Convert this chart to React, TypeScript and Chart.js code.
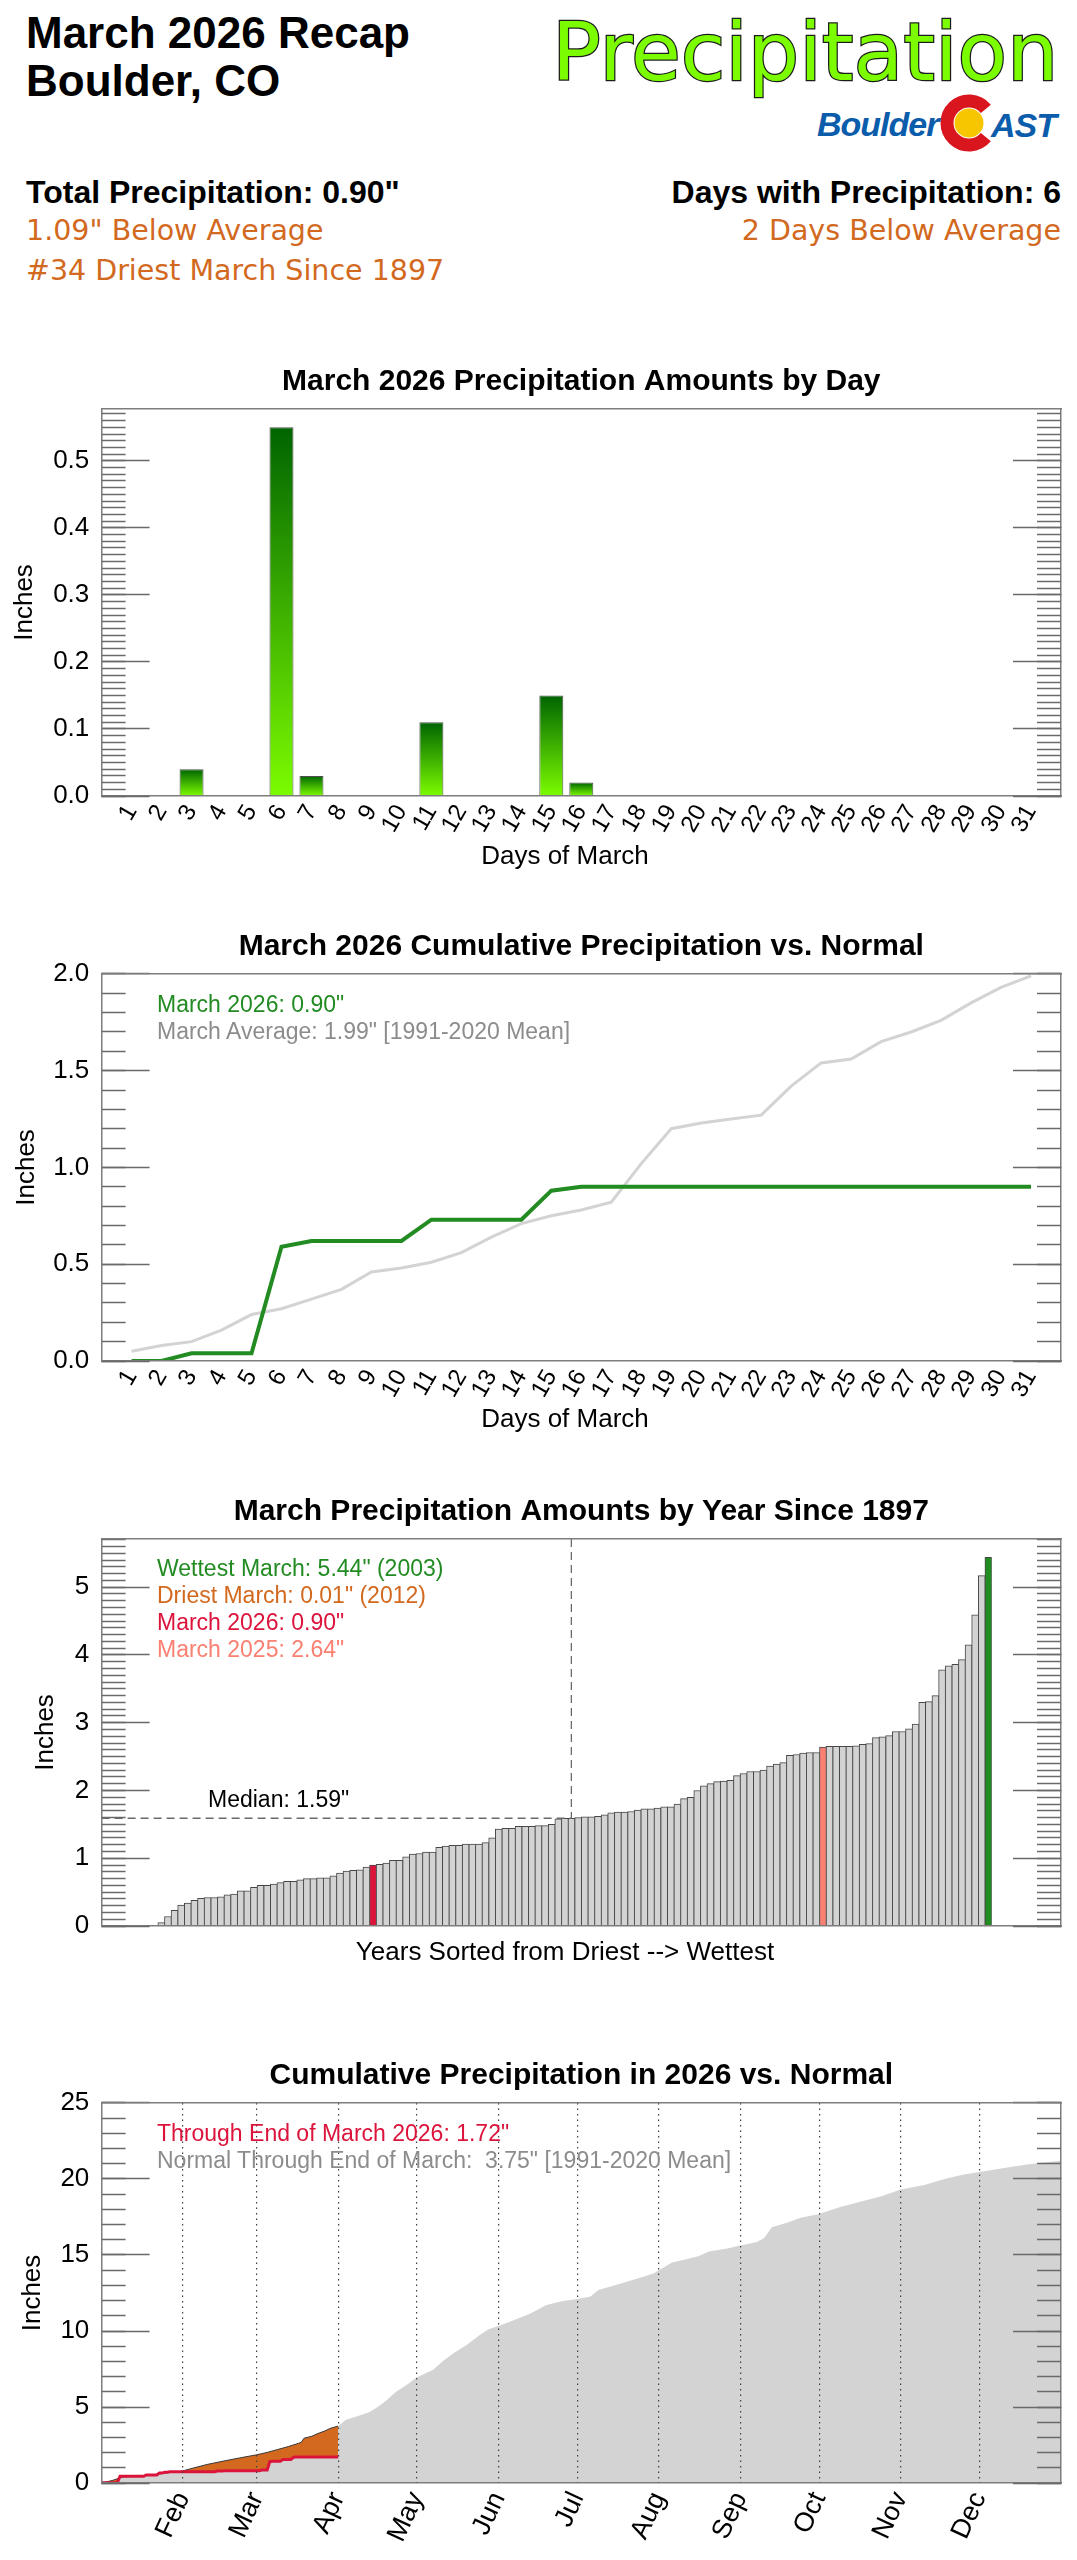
import React, { useEffect, useRef } from 'react';
import { Chart, registerables } from 'chart.js';

Chart.register(...registerables);

const W = 1077;
const SANS = '"Liberation Sans", Arial, Helvetica, sans-serif';
const DEJAVU = '"DejaVu Sans", Verdana, sans-serif';
Chart.defaults.font.family = SANS;
Chart.defaults.color = '#000';

// ---------------- data ----------------
const MARCH_DAYS = [1, 2, 3, 4, 5, 6, 7, 8, 9, 10, 11, 12, 13, 14, 15, 16, 17, 18, 19, 20, 21, 22, 23, 24, 25, 26, 27, 28, 29, 30, 31];
const DAILY_PRECIP_2026 = [0, 0, 0.04, 0, 0, 0.55, 0.03, 0, 0, 0, 0.11, 0, 0, 0, 0.15, 0.02, 0, 0, 0, 0, 0, 0, 0, 0, 0, 0, 0, 0, 0, 0, 0];
const CUM_2026_MARCH = [0, 0, 0.04, 0.04, 0.04, 0.59, 0.62, 0.62, 0.62, 0.62, 0.73, 0.73, 0.73, 0.73, 0.88, 0.9, 0.9, 0.9, 0.9, 0.9, 0.9, 0.9, 0.9, 0.9, 0.9, 0.9, 0.9, 0.9, 0.9, 0.9, 0.9];
const CUM_NORMAL_MARCH = [0.05, 0.08, 0.1, 0.16, 0.24, 0.27, 0.32, 0.37, 0.46, 0.48, 0.51, 0.56, 0.64, 0.71, 0.75, 0.78, 0.82, 1.02, 1.2, 1.23, 1.25, 1.27, 1.42, 1.54, 1.56, 1.65, 1.7, 1.76, 1.85, 1.93, 1.99];

// March totals since 1897, sorted driest -> wettest
const MARCH_TOTALS_SORTED = [
  0.01, 0.05, 0.14, 0.23, 0.31, 0.34, 0.38, 0.41, 0.42, 0.42,
  0.43, 0.46, 0.47, 0.52, 0.52, 0.57, 0.6, 0.6, 0.62, 0.64,
  0.66, 0.66, 0.68, 0.7, 0.7, 0.71, 0.71, 0.74, 0.78, 0.81,
  0.82, 0.83, 0.87, 0.9, 0.91, 0.93, 0.97, 0.97, 1.02, 1.06,
  1.07, 1.09, 1.09, 1.16, 1.18, 1.19, 1.19, 1.21, 1.21, 1.21,
  1.23, 1.3, 1.43, 1.44, 1.44, 1.47, 1.47, 1.47, 1.48, 1.48,
  1.5, 1.58, 1.59, 1.59, 1.6, 1.61, 1.61, 1.62, 1.64, 1.67,
  1.68, 1.68, 1.69, 1.71, 1.73, 1.73, 1.74, 1.76, 1.76, 1.8,
  1.88, 1.9, 2.0, 2.07, 2.1, 2.13, 2.14, 2.15, 2.22, 2.25,
  2.28, 2.28, 2.3, 2.36, 2.39, 2.41, 2.52, 2.53, 2.55, 2.56,
  2.56, 2.64, 2.65, 2.65, 2.65, 2.65, 2.66, 2.68, 2.69, 2.78,
  2.79, 2.81, 2.87, 2.87, 2.91, 2.98, 3.3, 3.31, 3.4, 3.78,
  3.84, 3.86, 3.93, 4.15, 4.59, 5.17, 5.44,
];
const RANK_2026 = 34;
const RANK_2025 = 102;
const MEDIAN_RANK = 64;
const MEDIAN_VALUE = 1.59;

// Year-to-date (day of year, Jan 1 = 0)
const YTD_DAYS_2026 = [0, 6, 7, 16, 17, 21, 22, 23, 24, 25, 26, 43, 44, 46, 47, 60, 61, 63, 64, 65, 68, 69, 72, 73, 74, 90];
const YTD_PRECIP_2026 = [0.03, 0.03, 0.45, 0.45, 0.54, 0.54, 0.66, 0.66, 0.72, 0.72, 0.74, 0.74, 0.79, 0.79, 0.82, 0.82, 0.86, 0.86, 1.41, 1.44, 1.44, 1.55, 1.55, 1.7, 1.72, 1.72];
const NORMAL_DAYS = [0, 4, 8, 15, 21, 25, 30, 34, 40, 47, 53, 59, 63, 67, 71, 75, 76, 77, 80, 82, 85, 87, 90, 93, 97, 102, 105, 108, 112, 116, 120, 126, 130, 134, 139, 144, 147, 151, 156, 163, 169, 175, 181, 186, 189, 195, 203, 210, 212, 217, 222, 227, 231, 238, 243, 249, 252, 255, 261, 266, 273, 281, 289, 297, 304, 313, 321, 328, 334, 344, 352, 365];
const NORMAL_YTD = [0, 0.17, 0.4, 0.47, 0.58, 0.68, 0.76, 0.95, 1.22, 1.47, 1.67, 1.86, 2.02, 2.21, 2.4, 2.62, 2.69, 2.95, 3.08, 3.24, 3.43, 3.6, 3.75, 4.17, 4.38, 4.68, 5.0, 5.38, 6.0, 6.45, 6.96, 7.44, 8.05, 8.55, 9.1, 9.75, 10.1, 10.33, 10.66, 11.14, 11.69, 11.96, 12.1, 12.27, 12.69, 13.0, 13.4, 13.78, 13.99, 14.5, 14.7, 14.92, 15.23, 15.43, 15.62, 15.83, 16.1, 16.82, 17.13, 17.44, 17.69, 18.16, 18.51, 18.88, 19.3, 19.6, 20.02, 20.29, 20.45, 20.74, 20.95, 21.2];
const END_OF_MARCH_DAY = 90;
const MONTH_LABELS = ['Feb', 'Mar', 'Apr', 'May', 'Jun', 'Jul', 'Aug', 'Sep', 'Oct', 'Nov', 'Dec'];
const MONTH_START_DAYS = [31, 59, 90, 120, 151, 181, 212, 243, 273, 304, 334];

// ---------------- styling ----------------
const FRAME_L = 101.6;
const FRAME_R = 1061;
const PAD_R = W - FRAME_R;
const FRAME_TOP = 60;
const FRAME_COLOR = '#7d7d7d';
const TICK_COLOR = '#6a6a6a';
const MAJOR_LEN = 48;
const MINOR_LEN = 24;
const GREEN = '#228B22';
const ORANGE = '#D2691E';
const CRIMSON = '#DC143C';
const SALMON = '#FA8072';
const LGRAY = '#D3D3D3';
const TXTGRAY = '#8C8C8C';

function steps(step: number, max: number): number[] {
  const out: number[] = [];
  const n = Math.floor(max / step + 1e-6);
  for (let i = 0; i <= n; i++) out.push(Math.round(i * step * 1e6) / 1e6);
  return out;
}

function setTicks(vals: number[]) {
  return (s: any) => {
    s.ticks = vals.map((v) => ({ value: v }));
  };
}

function frameScales(ymax: number, majorStep: number, minorStep: number, decimals: number, titlePad: number) {
  const major = steps(majorStep, ymax);
  const minor = steps(minorStep, ymax);
  const base = { type: 'linear', min: 0, max: ymax };
  const tickGrid = (len: number) => ({
    display: true,
    drawOnChartArea: false,
    drawTicks: true,
    tickLength: -len,
    tickColor: TICK_COLOR,
    tickWidth: 1.5,
    z: 1,
  });
  return {
    y: {
      ...base,
      position: 'left',
      weight: 2,
      afterBuildTicks: setTicks(major),
      afterFit: (s: any) => {
        s.width = FRAME_L;
      },
      ticks: {
        autoSkip: false,
        padding: MAJOR_LEN + 12.3,
        font: { size: 26 },
        color: '#000',
        callback: (v: any) => Number(v).toFixed(decimals),
      },
      grid: tickGrid(MAJOR_LEN),
      border: { display: true, color: FRAME_COLOR, width: 1.5, z: 1 },
      title: { display: true, text: 'Inches', font: { size: 26 }, color: '#000', padding: { top: titlePad, bottom: 0 } },
    },
    ym: {
      ...base,
      position: 'left',
      weight: 1,
      afterBuildTicks: setTicks(minor),
      afterFit: (s: any) => {
        s.width = 0;
      },
      ticks: { display: false },
      grid: tickGrid(MINOR_LEN),
      border: { display: false },
    },
    yr: {
      ...base,
      position: 'right',
      weight: 2,
      afterBuildTicks: setTicks(major),
      afterFit: (s: any) => {
        s.width = 0;
      },
      ticks: { display: false },
      grid: tickGrid(MAJOR_LEN),
      border: { display: true, color: FRAME_COLOR, width: 1.5, z: 1 },
    },
    yrm: {
      ...base,
      position: 'right',
      weight: 1,
      afterBuildTicks: setTicks(minor),
      afterFit: (s: any) => {
        s.width = 0;
      },
      ticks: { display: false },
      grid: tickGrid(MINOR_LEN),
      border: { display: false },
    },
    xt: {
      type: 'linear',
      position: 'top',
      min: 0,
      max: 1,
      afterFit: (s: any) => {
        s.height = 0;
      },
      ticks: { display: false },
      grid: { display: false, drawTicks: false },
      border: { display: true, color: FRAME_COLOR, width: 1.5, z: 1 },
    },
  };
}

function titleCfg(text: string) {
  return {
    display: true,
    text,
    fullSize: false,
    font: { size: 30, weight: 'bold', family: SANS },
    color: '#000',
    padding: { top: 15.1, bottom: 8.9 },
  };
}

function bottomAxis(min: number, max: number, tickVals: number[] | null, labels: ((v: number) => string) | null, height: number, rot: number, size: number) {
  return {
    type: 'linear',
    position: 'bottom',
    weight: 2,
    min,
    max,
    offset: false,
    afterBuildTicks: tickVals ? setTicks(tickVals) : undefined,
    afterFit: (s: any) => {
      s.height = height;
    },
    ticks: {
      display: !!labels,
      autoSkip: false,
      minRotation: rot,
      maxRotation: rot,
      padding: 4,
      font: { size: size },
      color: '#000',
      callback: (v: any) => (labels ? labels(Number(v)) : ''),
    },
    grid: { display: false, drawTicks: false, offset: false },
    border: { display: true, color: FRAME_COLOR, width: 1.5, z: 1 },
  };
}

const baseOptions = {
  responsive: false,
  animation: false,
  events: [],
  layout: { padding: { left: 0, right: PAD_R, top: 0, bottom: 0 } },
};

function dailyConfig() {
  const ymax = Math.max(...DAILY_PRECIP_2026) * 1.05;
  const gradient = (c: any) => {
    const chart = c.chart;
    if (!chart.chartArea || c.type !== 'data') return '#3c9d10';
    const ys = chart.scales.y;
    const v = c.parsed ? c.parsed.y : 0;
    const top = ys.getPixelForValue(v);
    const bottom = ys.getPixelForValue(0);
    if (bottom - top < 1) return '#7CFC00';
    const g = chart.ctx.createLinearGradient(0, top, 0, bottom);
    g.addColorStop(0, '#006400');
    g.addColorStop(1, '#7CFC00');
    return g;
  };
  return {
    type: 'bar',
    data: {
      datasets: [
        {
          data: MARCH_DAYS.map((d, i) => ({ x: d, y: DAILY_PRECIP_2026[i] })),
          backgroundColor: gradient,
          borderColor: '#505050',
          borderWidth: 1,
          barPercentage: 0.8,
          categoryPercentage: 1,
          xAxisID: 'x',
          yAxisID: 'y',
        },
      ],
    },
    options: {
      ...baseOptions,
      plugins: { legend: { display: false }, tooltip: { enabled: false }, title: titleCfg('March 2026 Precipitation Amounts by Day') },
      scales: {
        x: bottomAxis(0, 32, MARCH_DAYS, (v) => String(v), 80, 60, 24),
        ...frameScales(ymax, 0.1, 0.01, 1, 9.1),
      },
    },
  };
}

function cumulativeMarchConfig() {
  return {
    type: 'line',
    data: {
      datasets: [
        {
          data: MARCH_DAYS.map((d, i) => ({ x: d, y: CUM_2026_MARCH[i] })),
          borderColor: GREEN,
          borderWidth: 4,
          pointRadius: 0,
          fill: false,
          xAxisID: 'x',
          yAxisID: 'y',
        },
        {
          data: MARCH_DAYS.map((d, i) => ({ x: d, y: CUM_NORMAL_MARCH[i] })),
          borderColor: LGRAY,
          borderWidth: 3,
          pointRadius: 0,
          fill: false,
          xAxisID: 'x',
          yAxisID: 'y',
        },
      ],
    },
    options: {
      ...baseOptions,
      plugins: { legend: { display: false }, tooltip: { enabled: false }, title: titleCfg('March 2026 Cumulative Precipitation vs. Normal') },
      scales: {
        x: bottomAxis(0, 32, MARCH_DAYS, (v) => String(v), 80, 60, 24),
        ...frameScales(2.0, 0.5, 0.1, 1, 10.8),
      },
    },
  };
}

function yearsConfig() {
  const ymax = Math.max(...MARCH_TOTALS_SORTED) * 1.05;
  const n = MARCH_TOTALS_SORTED.length;
  const xmin = -7;
  const xmax = 138;
  const colors = MARCH_TOTALS_SORTED.map((_, i) => {
    const rank = i + 1;
    if (rank === RANK_2026) return CRIMSON;
    if (rank === RANK_2025) return SALMON;
    if (rank === n) return GREEN;
    if (rank === 1) return ORANGE;
    return LGRAY;
  });
  return {
    type: 'bar',
    data: {
      datasets: [
        {
          type: 'line',
          data: [
            { x: xmin, y: MEDIAN_VALUE },
            { x: MEDIAN_RANK, y: MEDIAN_VALUE },
            { x: MEDIAN_RANK, y: ymax },
          ],
          borderColor: '#6a6a6a',
          borderWidth: 1.3,
          borderDash: [8, 5],
          pointRadius: 0,
          fill: false,
          xAxisID: 'x',
          yAxisID: 'y',
        },
        {
          type: 'bar',
          data: MARCH_TOTALS_SORTED.map((v, i) => ({ x: i + 1, y: v })),
          backgroundColor: colors,
          borderColor: '#474747',
          borderWidth: { left: 1, right: 0.6, top: 1, bottom: 0 },
          barPercentage: 1,
          categoryPercentage: 1,
          xAxisID: 'x',
          yAxisID: 'y',
        },
      ],
    },
    options: {
      ...baseOptions,
      plugins: { legend: { display: false }, tooltip: { enabled: false }, title: titleCfg('March Precipitation Amounts by Year Since 1897') },
      scales: {
        x: bottomAxis(xmin, xmax, null, null, 80, 0, 24),
        ...frameScales(ymax, 1, 0.1, 0, 30.4),
      },
    },
  };
}

function ytdConfig() {
  const normalJanMarDays = NORMAL_DAYS.filter((d) => d <= END_OF_MARCH_DAY);
  return {
    type: 'line',
    data: {
      datasets: [
        {
          data: YTD_DAYS_2026.map((d, i) => ({ x: d, y: YTD_PRECIP_2026[i] })),
          borderColor: CRIMSON,
          borderWidth: 3,
          pointRadius: 0,
          fill: false,
          order: 0,
          xAxisID: 'x',
          yAxisID: 'y',
        },
        {
          data: normalJanMarDays.map((d, i) => ({ x: d, y: NORMAL_YTD[i] })),
          borderColor: '#3a3a3a',
          borderWidth: 1,
          pointRadius: 0,
          fill: { target: 0, above: ORANGE, below: GREEN },
          order: 1,
          xAxisID: 'x',
          yAxisID: 'y',
        },
        {
          data: NORMAL_DAYS.map((d, i) => ({ x: d, y: NORMAL_YTD[i] })),
          borderWidth: 0,
          borderColor: 'rgba(0,0,0,0)',
          backgroundColor: LGRAY,
          pointRadius: 0,
          fill: 'origin',
          order: 2,
          xAxisID: 'x',
          yAxisID: 'y',
        },
      ],
    },
    options: {
      ...baseOptions,
      plugins: { legend: { display: false }, tooltip: { enabled: false }, title: titleCfg('Cumulative Precipitation in 2026 vs. Normal') },
      scales: {
        x: bottomAxis(0, 365, MONTH_START_DAYS, (v) => MONTH_LABELS[MONTH_START_DAYS.indexOf(v)] || '', 69, 65, 27),
        xg: {
          type: 'linear',
          position: 'bottom',
          weight: 1,
          min: 0,
          max: 365,
          afterBuildTicks: setTicks(MONTH_START_DAYS),
          afterFit: (s: any) => {
            s.height = 0;
          },
          ticks: { display: false },
          grid: { display: true, drawOnChartArea: true, drawTicks: false, color: '#404040', lineWidth: 1.2, z: 1 },
          border: { display: false, dash: [1.5, 4] },
        },
        ...frameScales(25, 5, 1, 0, 17),
      },
    },
  };
}

function ChartCanvas({ top, height, make }: { top: number; height: number; make: () => any }) {
  const ref = useRef<HTMLCanvasElement | null>(null);
  useEffect(() => {
    if (!ref.current) return;
    const chart = new Chart(ref.current, make());
    return () => chart.destroy();
  }, []);
  return (
    <div style={{ position: 'absolute', left: 0, top, width: W, height }}>
      <canvas ref={ref} width={W} height={height} style={{ width: W, height, display: 'block' }} />
    </div>
  );
}

type TxtProps = {
  x: number;
  y: number;
  size: number;
  children: React.ReactNode;
  color?: string;
  weight?: number;
  family?: string;
  align?: 'left' | 'right' | 'center';
  style?: React.CSSProperties;
};

function Txt({ x, y, size, children, color = '#000', weight = 400, family = SANS, align = 'left', style = {} }: TxtProps) {
  const s: React.CSSProperties = {
    position: 'absolute',
    top: y - 0.846 * size,
    fontSize: size,
    lineHeight: `${size}px`,
    fontFamily: family,
    fontWeight: weight,
    color,
    whiteSpace: 'pre',
    ...style,
  };
  if (align === 'left') s.left = x;
  else if (align === 'right') s.right = W - x;
  else {
    s.left = x;
    s.transform = 'translateX(-50%)';
  }
  return <div style={s}>{children}</div>;
}

function Logo() {
  const cx = 40;
  const cy = 33;
  const r = 22;
  const a = (40 * Math.PI) / 180;
  const x1 = cx + r * Math.cos(a);
  const y1 = cy - r * Math.sin(a);
  const y2 = cy + r * Math.sin(a);
  return (
    <>
      <Txt x={817} y={136} size={34} weight={700} color="#0B5CAB" style={{ fontStyle: 'italic', letterSpacing: '-1px' }}>
        Boulder
      </Txt>
      <svg style={{ position: 'absolute', left: 929, top: 90 }} width={80} height={66}>
        <path d={`M ${x1} ${y1} A ${r} ${r} 0 1 0 ${x1} ${y2}`} stroke="#D9151D" strokeWidth={13} fill="none" />
        <circle cx={cx} cy={cy} r={14.5} fill="#F7C600" />
      </svg>
      <Txt x={991} y={137} size={34} weight={700} color="#0B5CAB" style={{ fontStyle: 'italic', letterSpacing: '-1px' }}>
        AST
      </Txt>
    </>
  );
}

export default function App() {
  return (
    <div style={{ position: 'absolute', left: 0, top: 0, width: W, height: 2560, background: '#fff', overflow: 'hidden' }}>
      <ChartCanvas top={333} height={543} make={dailyConfig} />
      <ChartCanvas top={898} height={543} make={cumulativeMarchConfig} />
      <ChartCanvas top={1463} height={543} make={yearsConfig} />
      <ChartCanvas top={2027} height={532} make={ytdConfig} />

      {/* header */}
      <Txt x={26} y={48} size={44} weight={700}>March 2026 Recap</Txt>
      <Txt x={26} y={96} size={44} weight={700}>Boulder, CO</Txt>
      <Txt
        x={552}
        y={81}
        size={81}
        family={DEJAVU}
        color="#7CFC00"
        style={{ WebkitTextStroke: '2.5px #1c1c1c', paintOrder: 'stroke fill' } as React.CSSProperties}
      >
        Precipitation
      </Txt>
      <Logo />
      <Txt x={26} y={203} size={32} weight={700}>Total Precipitation: 0.90"</Txt>
      <Txt x={26} y={241} size={28.5} family={DEJAVU} color={ORANGE}>1.09" Below Average</Txt>
      <Txt x={26} y={281} size={28.5} family={DEJAVU} color={ORANGE}>#34 Driest March Since 1897</Txt>
      <Txt x={1061} y={203} size={32} weight={700} align="right">Days with Precipitation: 6</Txt>
      <Txt x={1061} y={241} size={28.5} family={DEJAVU} color={ORANGE} align="right">2 Days Below Average</Txt>

      {/* chart 1 */}
      <Txt x={565} y={864} size={26} align="center">Days of March</Txt>

      {/* chart 2 */}
      <Txt x={157} y={1012} size={23} color={GREEN}>March 2026: 0.90"</Txt>
      <Txt x={157} y={1039} size={23} color={TXTGRAY}>March Average: 1.99" [1991-2020 Mean]</Txt>
      <Txt x={565} y={1427} size={26} align="center">Days of March</Txt>

      {/* chart 3 */}
      <Txt x={157} y={1576} size={23} color={GREEN}>Wettest March: 5.44" (2003)</Txt>
      <Txt x={157} y={1603} size={23} color={ORANGE}>Driest March: 0.01" (2012)</Txt>
      <Txt x={157} y={1630} size={23} color={CRIMSON}>March 2026: 0.90"</Txt>
      <Txt x={157} y={1657} size={23} color={SALMON}>March 2025: 2.64"</Txt>
      <Txt x={208} y={1807} size={23}>Median: 1.59"</Txt>
      <Txt x={565} y={1960} size={26} align="center">Years Sorted from Driest --&gt; Wettest</Txt>

      {/* chart 4 */}
      <Txt x={157} y={2141} size={23} color={CRIMSON}>Through End of March 2026: 1.72"</Txt>
      <Txt x={157} y={2168} size={23} color={TXTGRAY}>Normal Through End of March:  3.75" [1991-2020 Mean]</Txt>
    </div>
  );
}
